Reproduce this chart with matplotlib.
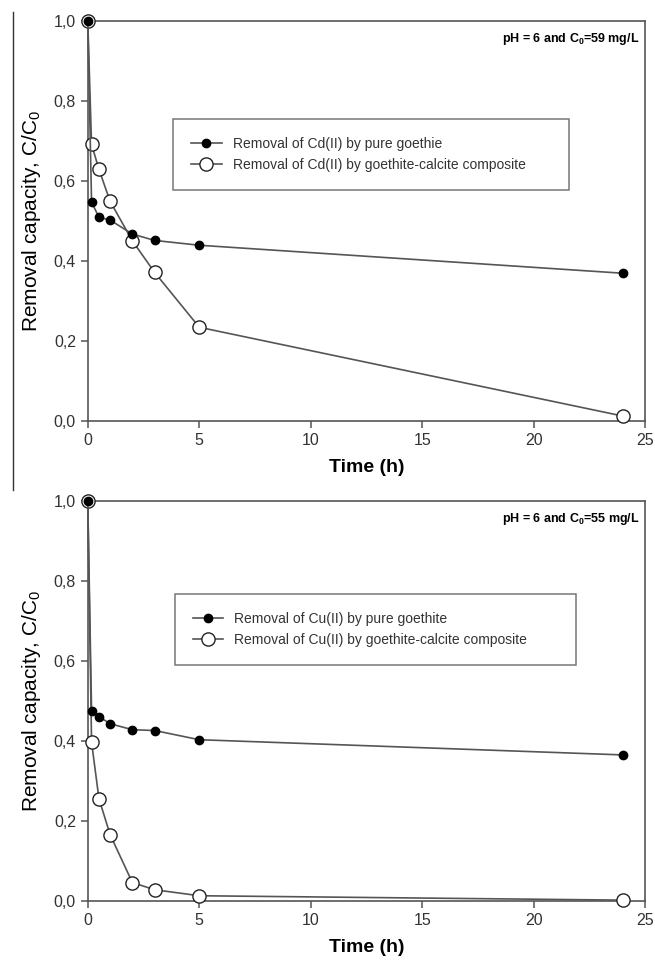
import matplotlib
matplotlib.use('Agg')
from matplotlib import pyplot as plt
from matplotlib.lines import Line2D
from matplotlib.ticker import FuncFormatter

plt.rcParams['font.family'] = ['Liberation Sans', 'DejaVu Sans']

# time points (h)
time_h = [0, 0.17, 0.5, 1, 2, 3, 5, 24]

# Cd(II), C0 = 59 mg/L
cd_pure = [1.0, 0.548, 0.510, 0.503, 0.468, 0.452, 0.440, 0.370]
cd_comp = [1.0, 0.692, 0.630, 0.550, 0.451, 0.372, 0.235, 0.013]

# Cu(II), C0 = 55 mg/L
cu_pure = [1.0, 0.477, 0.462, 0.444, 0.429, 0.427, 0.404, 0.366]
cu_comp = [1.0, 0.398, 0.257, 0.167, 0.047, 0.029, 0.014, 0.003]

x_ticks = [0, 5, 10, 15, 20, 25]
y_ticks = [0.0, 0.2, 0.4, 0.6, 0.8, 1.0]

panels = [
    dict(pure=cd_pure, comp=cd_comp,
         labels=["Removal of Cd(II) by pure goethie",
                 "Removal of Cd(II) by goethite-calcite composite"],
         note="pH = 6 and C$_\\mathregular{0}$=59 mg/L",
         rect=[0.134, 0.563, 0.851, 0.415],
         leg=(0.153, 0.585, 0.711, 0.165)),
    dict(pure=cu_pure, comp=cu_comp,
         labels=["Removal of Cu(II) by pure goethite",
                 "Removal of Cu(II) by goethite-calcite composite"],
         note="pH = 6 and C$_\\mathregular{0}$=55 mg/L",
         rect=[0.134, 0.065, 0.851, 0.415],
         leg=(0.156, 0.5925, 0.72, 0.1725)),
]

gray = "#555555"
comma = FuncFormatter(lambda v, p: "{:.1f}".format(v).replace(".", ","))

fig = plt.figure(figsize=(6.55, 9.64), dpi=100)

for p in panels:
    ax = fig.add_axes(p['rect'])
    ax.plot(time_h, p['pure'], '-o', color=gray, lw=1.2, ms=6,
            mfc='black', mec='black', label=p['labels'][0], zorder=4,
            clip_on=False)
    ax.plot(time_h, p['comp'], '-o', color=gray, lw=1.2, ms=9.5,
            mfc='white', mec='#222222', mew=1.0, label=p['labels'][1], zorder=3,
            clip_on=False)
    ax.set_xlim(0, 25)
    ax.set_ylim(0, 1.0)
    ax.set_xticks(x_ticks)
    ax.set_yticks(y_ticks)
    ax.yaxis.set_major_formatter(comma)
    for s in ax.spines.values():
        s.set_color(gray)
        s.set_linewidth(1.2)
    ax.tick_params(direction='out', length=5, width=1.1, color=gray,
                   labelsize=11.5, labelcolor='#333333')
    ax.set_xlabel("Time (h)", fontsize=14, fontweight='bold', labelpad=8)
    ax.set_ylabel("Removal capacity, C/C$_\\mathregular{0}$", fontsize=15, labelpad=8)
    ax.text(0.99, 0.975, p['note'], transform=ax.transAxes, ha='right', va='top',
            fontsize=9, fontweight='bold')
    leg = ax.legend(loc='center', bbox_to_anchor=p['leg'], mode='expand',
                    fontsize=10, frameon=True, fancybox=False, borderpad=1.3,
                    handlelength=2.2, labelspacing=0.5, borderaxespad=0)
    leg.get_frame().set_edgecolor(gray)
    leg.get_frame().set_linewidth(1.1)
    for t in leg.get_texts():
        t.set_color('#333333')

# stray border line at the left edge of the original scan
fig.add_artist(Line2D([0.02, 0.02], [1 - 12 / 964, 1 - 490 / 964],
                      color='#333333', lw=1.0))

fig.savefig("out.png", dpi=100)
